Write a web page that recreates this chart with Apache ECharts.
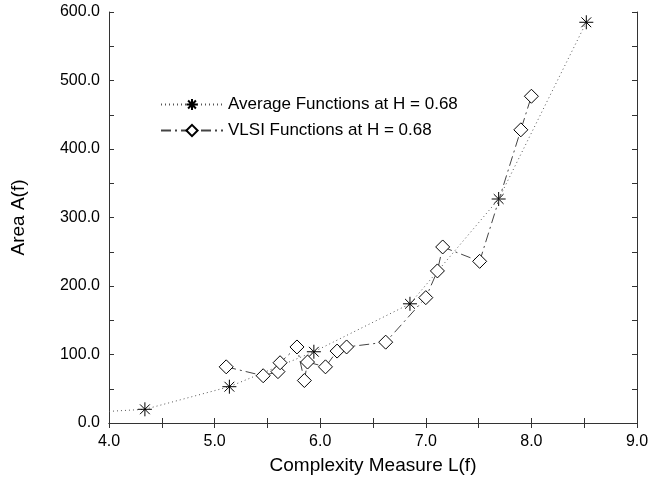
<!DOCTYPE html>
<html>
<head>
<meta charset="utf-8">
<script src="https://cdn.jsdelivr.net/npm/echarts@6/dist/echarts.min.js"></script>
<style>
  html, body { margin: 0; padding: 0; background: #fff; }
  #chart { width: 652px; height: 478px; }
</style>
</head>
<body>
<div id="chart"></div>
<script>
// values
const avgX = [4.00, 4.34, 5.14, 5.94, 6.85, 7.69, 8.52];
const avgY = [17, 20, 53, 104, 174, 327, 585];
const vlsiX = [5.11, 5.46, 5.60, 5.62, 5.78, 5.85, 5.88, 6.05, 6.16, 6.25, 6.62, 7.00, 7.11, 7.16, 7.51, 7.90, 8.00];
const vlsiY = [82, 69, 75, 88, 111, 62, 89, 82, 105, 111, 118, 183, 222, 257, 236, 428, 477];
const seriesNames = ['Average Functions at H = 0.68', 'VLSI Functions at H = 0.68'];

const font = 'Liberation Sans';
const star = 'path://M0,-10L0,10M-10,0L10,0M-7,-7L7,7M-7,7L7,-7';

const avgData = avgX.map((x, i) => {
    const p = { value: [x, avgY[i]] };
    if (i === 0) p.symbol = 'none';   // curve starts at the axis edge
    return p;
});
const vlsiData = vlsiX.map((x, i) => [x, vlsiY[i]]);

const axisLine = { lineStyle: { color: '#333', width: 1 } };
const ticks = { inside: true, length: 5, lineStyle: { color: '#333' } };
const minor = { show: true, splitNumber: 2, length: 5, lineStyle: { color: '#333' } };
const nameStyle = { fontFamily: font, fontSize: 19, color: '#000' };

const chart = echarts.init(document.getElementById('chart'));
chart.setOption({
    animation: false,
    textStyle: { fontFamily: font },
    grid: { left: 109, right: 15, top: 12, bottom: 55, outerBoundsMode: 'none' },
    legend: {
        orient: 'vertical',
        left: 155,
        top: 91,
        itemWidth: 62,
        itemHeight: 14,
        itemGap: 9,
        textStyle: { fontFamily: font, fontSize: 17, color: '#000' },
        data: seriesNames
    },
    xAxis: [{
        type: 'value', min: 4, max: 9, interval: 1,
        name: 'Complexity Measure L(f)', nameLocation: 'middle', nameGap: 33,
        nameTextStyle: nameStyle,
        axisLine: axisLine, axisTick: ticks, minorTick: minor,
        axisLabel: { fontFamily: font, fontSize: 16, color: '#000', margin: 11, formatter: v => v.toFixed(1) },
        splitLine: { show: false }
    }, {
        type: 'value', min: 4, max: 9, interval: 1, position: 'top',
        axisLine: axisLine, axisTick: ticks, minorTick: minor,
        axisLabel: { show: false }, splitLine: { show: false }
    }],
    yAxis: [{
        type: 'value', min: 0, max: 600, interval: 100,
        name: 'Area A(f)', nameLocation: 'middle', nameGap: 81,
        nameTextStyle: nameStyle,
        axisLine: axisLine, axisTick: ticks, minorTick: minor,
        axisLabel: { fontFamily: font, fontSize: 16, color: '#000', margin: 9, formatter: v => v.toFixed(1) },
        splitLine: { show: false }
    }, {
        type: 'value', min: 0, max: 600, interval: 100, position: 'right',
        axisLine: axisLine, axisTick: ticks, minorTick: minor,
        axisLabel: { show: false }, splitLine: { show: false }
    }],
    series: [{
        name: seriesNames[0],
        type: 'line',
        data: avgData,
        symbol: star,
        symbolSize: 14,
        itemStyle: { color: 'none', borderColor: '#000', borderWidth: 1 },
        lineStyle: { color: '#555', width: 1, type: [1, 3] },
        z: 3
    }, {
        name: seriesNames[1],
        type: 'line',
        data: vlsiData,
        symbol: 'diamond',
        symbolSize: 14,
        itemStyle: { color: '#fff', borderColor: '#000', borderWidth: 1 },
        lineStyle: { color: '#444', width: 1, type: [10, 4, 2, 4] },
        z: 4
    }]
});
</script>
</body>
</html>
